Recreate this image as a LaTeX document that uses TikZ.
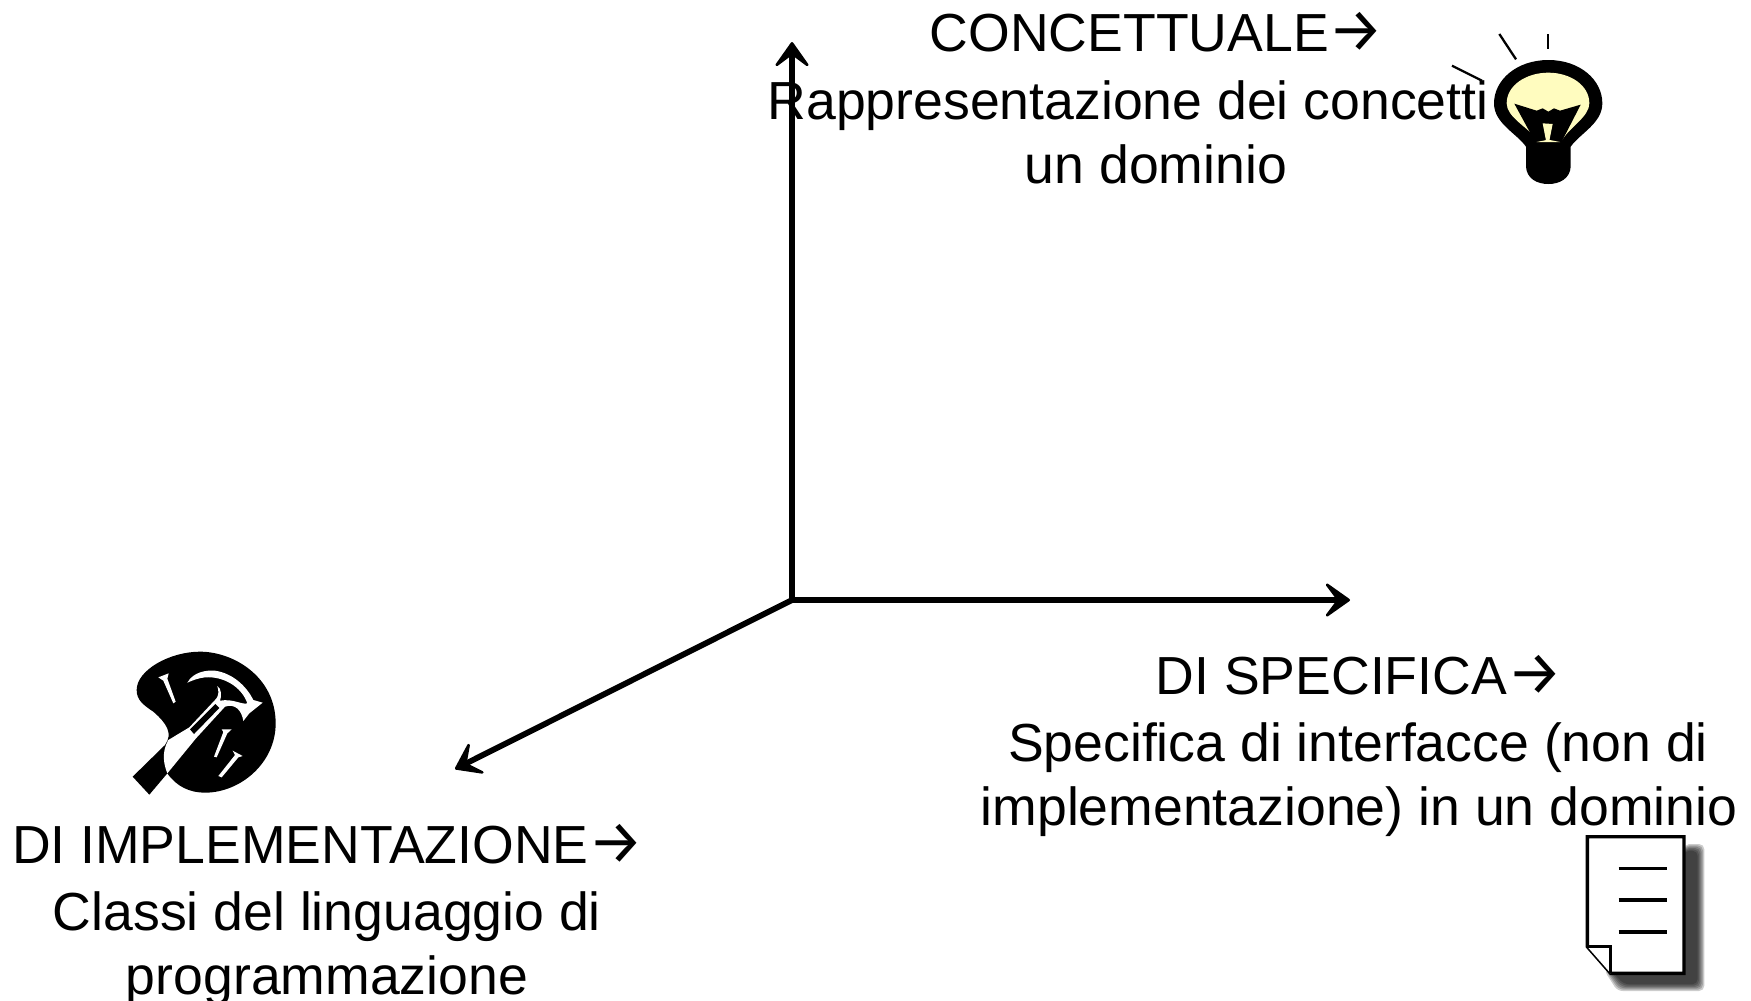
\documentclass[tikz,border=0pt]{standalone}
\usepackage{fontspec}
\setmainfont{Liberation Sans}
\newfontfamily\arrowfont{Fira Sans}
\newcommand{\arrowsign}{{\arrowfont\fontsize{35}{37}\selectfont →}}
\usetikzlibrary{arrows.meta}
\tikzset {
    axis line/.style = {line width = 3.3pt, -{Stealth[length = 17pt, width = 24pt, inset = 9pt, round, line width = 1.5pt]}},
    label text/.style = {inner sep = 0pt, anchor = base, font = \fontsize{30.5}{37}\selectfont},
    ray/.style = {line width = 1.3pt},
    white part/.style = {fill = white, draw = none},
    sheet/.style = {fill = white, draw = black, line width = 1.9pt, line join = miter},
    sheet line/.style = {line width = 1.9pt}
}
\begin{document}
\begin{tikzpicture}[x = 0.02cm, y = -0.02cm]
    \useasboundingbox (0, 0) rectangle (1751, 1000.5);
    \coordinate (o) at (792, 600);
    \coordinate (concept) at (792, 42);
    \coordinate (spec) at (1350, 600);
    \coordinate (impl) at (455, 769);
    \draw [axis line] (o) -- (concept);
    \draw [axis line] (o) -- (spec);
    \draw [axis line] (o) -- (impl);
    % concettuale
    \node (c1) [label text] at (1157, 51) {CONCETTUALE\arrowsign};
    \node (c2) [label text] at (1128, 119) {Rappresentazione dei concetti};
    \node (c3) [label text] at (1156, 183) {un dominio};
    % specifica
    \node (s1) [label text] at (1359, 694) {DI SPECIFICA\arrowsign};
    \node (s2) [label text] at (1358, 761) {Specifica di interfacce (non di};
    \node (s3) [label text] at (1359, 825) {implementazione) in un dominio};
    % implementazione
    \node (i1) [label text] at (328, 863) {DI IMPLEMENTAZIONE\arrowsign};
    \node (i2) [label text] at (327, 930) {Classi del linguaggio di};
    \node (i3) [label text] at (327, 994) {programmazione};
    % lampadina
    \begin{scope}[shift = {(1420, 10)}, scale = 1/3]
        \draw [ray] (238, 72) -- (288, 148);
        \draw [ray] (383, 72) -- (383, 118);
        \draw [ray] (96, 167) -- (186, 212);
        \fill (385, 150) .. controls (480, 150) and (547, 210) .. (547, 280)
            .. controls (547, 340) and (480, 370) .. (452, 410)
            -- (452, 470) .. controls (450, 505) and (420, 522) .. (385, 522)
            .. controls (350, 522) and (320, 505) .. (318, 470)
            -- (318, 410) .. controls (290, 370) and (222, 340) .. (222, 280)
            .. controls (222, 210) and (290, 150) .. (385, 150) -- cycle;
        \fill [yellow!25] (385, 188) .. controls (450, 188) and (508, 225) .. (508, 280)
            .. controls (508, 320) and (450, 350) .. (425, 392)
            -- (345, 382) .. controls (320, 350) and (260, 320) .. (260, 280)
            .. controls (260, 225) and (320, 188) .. (385, 188) -- cycle;
        \fill (283, 281) -- (350, 302) -- (368, 295) -- (385, 305) -- (402, 295) -- (420, 302) -- (482, 284)
            -- (425, 395) -- (345, 395) -- cycle;
        \fill [yellow!25] (368, 340) -- (398, 342) -- (388, 392) -- (378, 392) -- cycle;
        \fill [yellow!25] (350, 396) -- (385, 389) -- (420, 396) -- cycle;
    \end{scope}
    % martello
    \begin{scope}[shift = {(110, 640)}, scale = 1/3]
        \fill (270, 35) .. controls (370, 35) and (497, 110) .. (497, 250)
            .. controls (497, 370) and (390, 458) .. (285, 458)
            .. controls (240, 458) and (200, 440) .. (172, 400)
            -- (118, 464) -- (68, 410) -- (165, 315)
            .. controls (190, 280) and (170, 250) .. (130, 215)
            .. controls (100, 195) and (80, 180) .. (80, 150)
            .. controls (80, 90) and (180, 35) .. (270, 35) -- cycle;
        \fill [white part] (175, 300) -- (238, 262) -- (315, 180) .. controls (330, 165) and (325, 150) .. (322, 138)
            .. controls (335, 145) and (335, 170) .. (330, 182)
            .. controls (370, 175) and (395, 195) .. (412, 190)
            .. controls (395, 140) and (340, 108) .. (285, 112)
            .. controls (265, 114) and (245, 122) .. (232, 128)
            .. controls (250, 95) and (290, 90) .. (315, 92)
            .. controls (370, 100) and (410, 140) .. (430, 180) -- (458, 188) -- (418, 220) -- (400, 243)
            .. controls (395, 210) and (375, 190) .. (345, 200)
            -- (258, 295) -- (172, 400) .. controls (160, 370) and (155, 335) .. (175, 300) -- cycle;
        \fill (240, 268) -- (316, 192) -- (328, 204) -- (252, 282) -- cycle;
        \fill [white part] (145, 112) -- (176, 100) -- (172, 116) -- (197, 185) -- (190, 190) -- (160, 122) -- cycle;
        \fill [white part] (335, 268) -- (365, 268) -- (352, 280) -- (320, 352) -- (312, 350) -- (340, 276) -- cycle;
        \fill [white part] (368, 332) -- (398, 348) -- (385, 352) -- (335, 412) -- (325, 408) -- (375, 345) -- cycle;
    \end{scope}
    % foglio
    \begin{scope}[shift = {(1560, 820)}, scale = 1/3]
        \foreach \blur in {18, 14, 10, 6, 2, -2} {
            \fill [black, opacity = 0.2, rounded corners = 3pt]
                (372, 90 - \blur) -- (415 + \blur, 90 - \blur) -- (415 + \blur, 495 + \blur)
                -- (190 - \blur, 495 + \blur) -- (150 - \blur, 450) -- (372, 450) -- cycle;
        }
        \draw [sheet] (82, 50) -- (372, 50) -- (372, 460) -- (152, 460) -- (82, 380) -- cycle;
        \draw [sheet] (82, 380) -- (152, 380) -- (152, 460);
        \draw [sheet line] (176, 145) -- (320, 145);
        \draw [sheet line] (176, 240) -- (320, 240);
        \draw [sheet line] (176, 336) -- (320, 336);
    \end{scope}
\end{tikzpicture}
\end{document}
